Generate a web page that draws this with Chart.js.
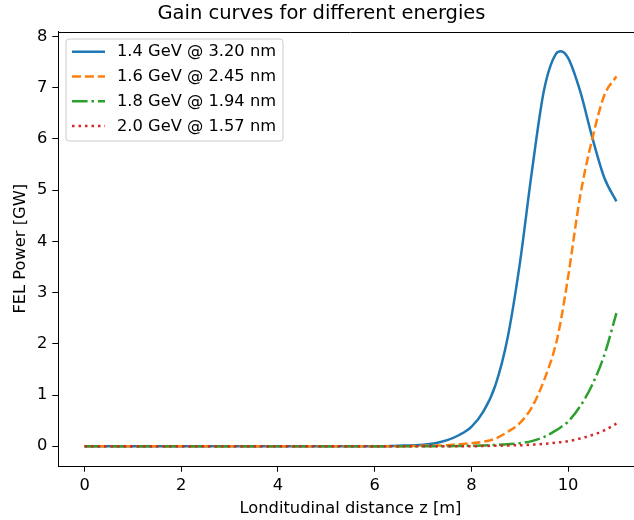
<!DOCTYPE html>
<html>
<head>
<meta charset="utf-8">
<script src="https://cdn.jsdelivr.net/npm/chart.js@4/dist/chart.umd.min.js"></script>
<style>
html,body{margin:0;padding:0;overflow:hidden;background:#fff;width:634px;height:520px;}
canvas{display:block;}
</style>
</head>
<body>
<canvas id="c" width="700" height="520"></canvas>
<script>
const zPositions = [0,0.5,1,1.5,2,2.5,3,3.5,4,4.5,5,5.5,6,6.5,7,7.25,7.5,7.75,8,8.25,8.5,8.75,9,9.25,9.5,9.75,9.85,10,10.25,10.5,10.75,11];
const power14 = [0,0,0,0,0,0,0,0,0,0,0,0,0,0.01,0.03,0.06,0.12,0.22,0.38,0.68,1.2,2.12,3.55,5.35,6.94,7.66,7.71,7.58,6.93,6.03,5.24,4.78];
const power16 = [0,0,0,0,0,0,0,0,0,0,0,0,0,0,0.01,0.015,0.02,0.04,0.06,0.09,0.15,0.28,0.45,0.76,1.28,2.0,2.45,3.3,4.88,6.0,6.85,7.22];
const power18 = [0,0,0,0,0,0,0,0,0,0,0,0,0,0,0,0,0,0.005,0.01,0.015,0.025,0.04,0.06,0.1,0.18,0.31,0.37,0.48,0.78,1.2,1.78,2.6];
const power20 = [0,0,0,0,0,0,0,0,0,0,0,0,0,0,0,0,0,0,0,0.005,0.01,0.015,0.02,0.03,0.045,0.07,0.08,0.1,0.15,0.22,0.31,0.44];
const seriesLabels = ['1.4 GeV @ 3.20 nm','1.6 GeV @ 2.45 nm','1.8 GeV @ 1.94 nm','2.0 GeV @ 1.57 nm'];
const xTicks = [0,2,4,6,8,10];
const yTicks = [0,1,2,3,4,5,6,7,8];

const FONT = "'DejaVu Sans', sans-serif";
const FS = 16.3;
const toPts = arr => arr.map((v,i)=>({x:zPositions[i], y:v}));

const styles = [
  {color:'#1f77b4', dash:[]},
  {color:'#ff7f0e', dash:[9,3.9]},
  {color:'#2ca02c', dash:[15.6,3.9,2.5,3.9]},
  {color:'#d62728', dash:[2.5,4.0]}
];
const seriesData = [power14, power16, power18, power20];

const datasets = seriesData.map((arr,i)=>({
  label: seriesLabels[i],
  data: toPts(arr),
  borderColor: styles[i].color,
  backgroundColor: styles[i].color,
  borderDash: styles[i].dash,
  borderWidth: 2.5,
  borderCapStyle: 'butt',
  pointRadius: 0,
  fill: false,
  cubicInterpolationMode: 'monotone',
  order: 3 - i
}));

const extras = {
  id: 'extras',
  afterDraw(chart){
    const ctx = chart.ctx, a = chart.chartArea;
    ctx.save();
    ctx.strokeStyle = '#000';
    ctx.lineWidth = 1;
    ctx.beginPath();
    ctx.moveTo(a.left, Math.round(a.top)+0.5);
    ctx.lineTo(a.right, Math.round(a.top)+0.5);
    ctx.stroke();
    const bx = a.left + 8, by = a.top + 7.5, bw = 217, bh = 102, r = 3;
    ctx.beginPath();
    ctx.moveTo(bx+r,by);
    ctx.lineTo(bx+bw-r,by); ctx.arcTo(bx+bw,by,bx+bw,by+r,r);
    ctx.lineTo(bx+bw,by+bh-r); ctx.arcTo(bx+bw,by+bh,bx+bw-r,by+bh,r);
    ctx.lineTo(bx+r,by+bh); ctx.arcTo(bx,by+bh,bx,by+bh-r,r);
    ctx.lineTo(bx,by+r); ctx.arcTo(bx,by,bx+r,by,r);
    ctx.closePath();
    ctx.fillStyle = 'rgba(255,255,255,0.8)';
    ctx.fill();
    ctx.strokeStyle = '#cccccc';
    ctx.lineWidth = 1;
    ctx.stroke();
    chart.data.datasets.forEach((ds,i)=>{
      const y = by + 12.7 + i*24.8;
      ctx.beginPath();
      ctx.setLineDash(ds.borderDash || []);
      ctx.lineCap = 'butt';
      ctx.strokeStyle = ds.borderColor;
      ctx.lineWidth = 2.5;
      ctx.moveTo(bx+6, y);
      ctx.lineTo(bx+39, y);
      ctx.stroke();
      ctx.setLineDash([]);
      ctx.fillStyle = '#000';
      ctx.font = FS + 'px ' + FONT;
      ctx.textBaseline = 'middle';
      ctx.textAlign = 'left';
      ctx.fillText(ds.label, bx+51, y + 0.5);
    });
    ctx.restore();
  }
};

new Chart(document.getElementById('c'), {
  type: 'line',
  data: { datasets },
  plugins: [extras],
  options: {
    responsive: false,
    animation: false,
    devicePixelRatio: 1,
    layout: { padding: { left: 0, right: 57, top: 0, bottom: 0 } },
    plugins: {
      legend: { display: false },
      tooltip: { enabled: false },
      title: {
        display: true,
        text: 'Gain curves for different energies',
        color: '#000',
        font: { family: FONT, size: 19.5, weight: 'normal', lineHeight: 1.2 },
        padding: { top: 2, bottom: 6.1 }
      }
    },
    scales: {
      x: {
        type: 'linear',
        min: -0.55, max: 11.55,
        afterFit(s){ s.height = 54; },
        afterBuildTicks(s){ s.ticks = xTicks.map(v=>({value:v})); },
        grid: { display: true, drawOnChartArea: false, drawTicks: true, tickLength: 5.7, tickColor: '#000', tickWidth: 1 },
        border: { display: true, color: '#000', width: 1 },
        ticks: { color: '#000', font: { family: FONT, size: FS }, padding: 4, maxRotation: 0, autoSkip: false },
        title: { display: true, text: 'Londitudinal distance z [m]', color: '#000', font: { family: FONT, size: FS }, padding: { top: 1.5, bottom: 1.5 } }
      },
      y: {
        type: 'linear',
        min: -0.3855, max: 8.0955,
        afterFit(s){ s.width = 58; },
        afterBuildTicks(s){ s.ticks = yTicks.map(v=>({value:v})); },
        grid: { display: true, drawOnChartArea: false, drawTicks: true, tickLength: 5.7, tickColor: '#000', tickWidth: 1 },
        border: { display: true, color: '#000', width: 1 },
        ticks: { color: '#000', font: { family: FONT, size: FS }, padding: 5, autoSkip: false },
        title: { display: true, text: 'FEL Power [GW]', color: '#000', font: { family: FONT, size: FS }, padding: { top: 10.5, bottom: 0 } }
      }
    }
  }
});
</script>
</body>
</html>
